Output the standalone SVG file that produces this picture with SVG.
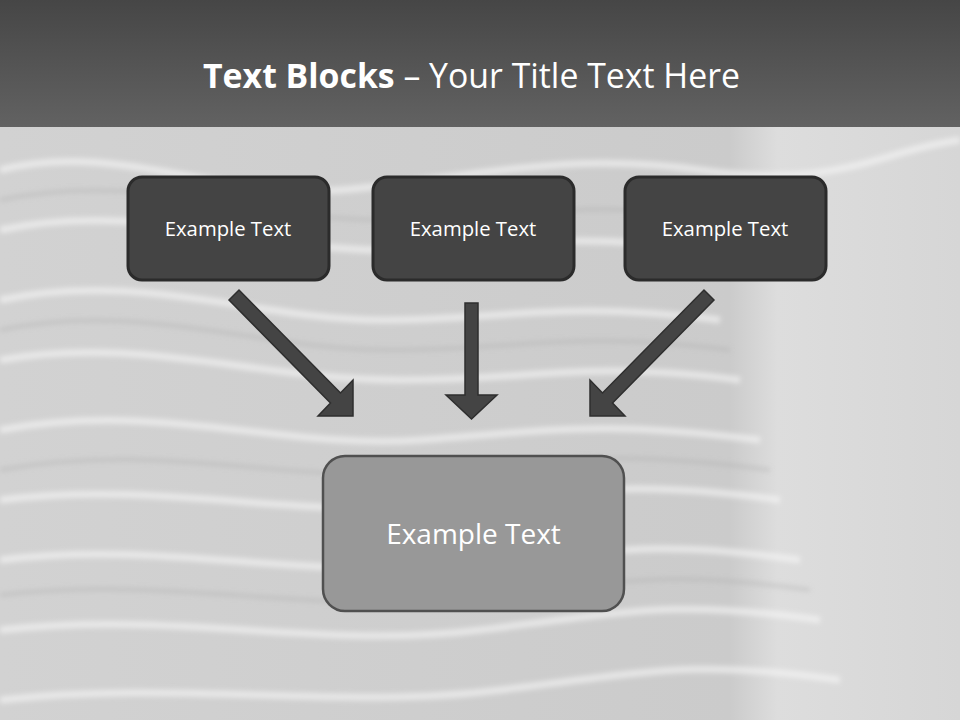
<svg xmlns="http://www.w3.org/2000/svg" width="960" height="720" viewBox="0 0 960 720">
<defs>
<linearGradient id="hdr" x1="0" y1="0" x2="0" y2="1">
<stop offset="0" stop-color="#464646"/>
<stop offset="1" stop-color="#626262"/>
</linearGradient>
<linearGradient id="bg" x1="0" y1="0" x2="1" y2="0">
<stop offset="0" stop-color="#d2d2d2"/>
<stop offset="0.76" stop-color="#cbcbcb"/>
<stop offset="0.81" stop-color="#dddddd"/>
<stop offset="1" stop-color="#d6d6d6"/>
</linearGradient>
<filter id="soft" x="-5%" y="-20%" width="110%" height="140%">
<feGaussianBlur stdDeviation="2.5"/>
</filter>
<style>
.top rect{fill:#444444;stroke:#2b2b2b;stroke-width:3}
.top text{fill:#ffffff;font-family:"Open Sans","Noto Sans",sans-serif;font-size:20.3px;text-anchor:middle}
.arrow{fill:#444444;stroke:#2e2e2e;stroke-width:1.5;stroke-linejoin:miter}
.wave{fill:none;stroke:#f6f6f6;stroke-opacity:0.6;stroke-width:7}
.waved{fill:none;stroke:#a8a8a8;stroke-opacity:0.35;stroke-width:4}
</style>
</defs>
<rect x="0" y="0" width="960" height="720" fill="url(#bg)"/>
<g id="background-waves" filter="url(#soft)">
<path class="wave" d="M0 170 C120 140 220 200 340 190 S560 150 700 170 S880 150 960 140"/>
<path class="wave" d="M0 230 C140 200 260 250 380 250 S560 230 700 250"/>
<path class="wave" d="M0 300 C140 270 260 320 380 320 S560 300 720 320"/>
<path class="wave" d="M0 360 C140 335 260 380 400 380 S580 360 740 380"/>
<path class="wave" d="M0 430 C160 400 280 450 420 440 S600 420 760 440"/>
<path class="wave" d="M0 500 C160 480 300 520 440 505 S640 480 780 500"/>
<path class="wave" d="M0 560 C160 540 300 580 460 565 S660 540 800 560"/>
<path class="wave" d="M0 630 C180 610 320 650 480 630 S680 600 820 620"/>
<path class="wave" d="M0 700 C180 680 340 710 500 690 S700 660 840 680"/>
<path class="waved" d="M0 200 C140 170 260 220 380 220 S560 200 700 215"/>
<path class="waved" d="M0 330 C140 300 260 350 390 350 S570 330 730 350"/>
<path class="waved" d="M0 470 C160 440 290 485 430 472 S620 450 770 470"/>
<path class="waved" d="M0 595 C170 575 310 615 470 598 S670 570 810 590"/>
</g>
<g id="header">
<rect x="0" y="0" width="960" height="127" fill="url(#hdr)"/>
<text x="471.5" y="88" fill="#ffffff" font-family="'Open Sans','Noto Sans',sans-serif" font-size="33.8" text-anchor="middle"><tspan font-weight="bold">Text Blocks</tspan> – Your Title Text Here</text>
</g>
<g id="connectors">
<polygon class="arrow" points="229,300 239,290 340.5,393 353,380 353,416 318,416 330.5,403"/>
<polygon class="arrow" points="465,303 478,303 478,395 497,395 471.5,419 446,395 465,395"/>
<polygon class="arrow" points="714,300 704,290 602.5,393 590,380 590,416 625,416 612.5,403"/>
</g>
<g id="node-left" class="top">
<rect x="128" y="177" width="201" height="103" rx="14"/>
<text x="228" y="236">Example Text</text>
</g>
<g id="node-middle" class="top">
<rect x="373" y="177" width="201" height="103" rx="14"/>
<text x="473" y="236">Example Text</text>
</g>
<g id="node-right" class="top">
<rect x="625" y="177" width="201" height="103" rx="14"/>
<text x="725" y="236">Example Text</text>
</g>
<g id="node-bottom">
<rect x="323" y="456" width="301" height="155" rx="22" fill="#989898" stroke="#505050" stroke-width="2.5"/>
<text x="473.5" y="544" fill="#ffffff" font-family="'Open Sans','Noto Sans',sans-serif" font-size="28" text-anchor="middle">Example Text</text>
</g>
</svg>
